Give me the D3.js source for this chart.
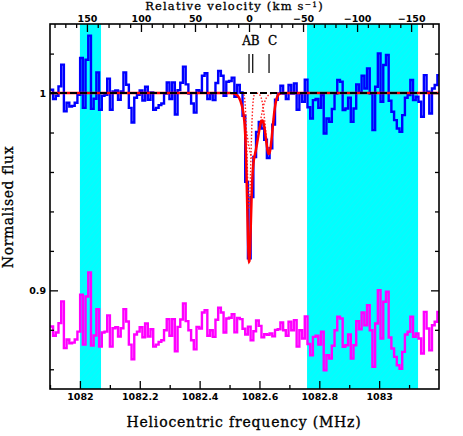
<!DOCTYPE html>
<html>
<head>
<meta charset="utf-8">
<script src="https://cdn.jsdelivr.net/npm/d3@7"></script>
<style>
  body { margin: 0; background: #fff; }
  .title { font-family: "DejaVu Serif", serif; fill: #000; stroke: #000; stroke-width: 0.3px; }
  .tick text { font-family: "DejaVu Sans", sans-serif; font-weight: bold; font-size: 9.5px; fill: #000; }
</style>
</head>
<body>
<script>
'use strict';

// spectrum, one value per channel (normalised flux)
const fluxValues = [
  1.0017, 0.9970, 0.9986, 1.0034, 1.0144, 0.9907, 0.9951, 0.9932, 0.9935, 0.9951,
  0.9991, 1.0178, 0.9925, 1.0169, 1.0291, 0.9920, 0.9971, 1.0105, 0.9915, 0.9986,
  0.9991, 1.0073, 0.9915, 1.0008, 1.0013, 0.9966, 1.0008, 1.0105, 1.0042, 0.9925,
  0.9851, 0.9976, 0.9991, 1.0013, 0.9962, 1.0032, 0.9966, 1.0003, 0.9915, 0.9925,
  0.9939, 0.9947, 0.9998, 1.0054, 0.9970, 1.0054, 0.9891, 1.0015, 1.0052, 1.0134,
  1.0044, 0.9998, 0.9947, 0.9901, 1.0015, 1.0007, 1.0088, 1.0100, 0.9970, 0.9998,
  0.9964, 1.0051, 1.0112, 1.0088, 0.9986, 1.0057, 1.0061, 1.0078, 0.9981, 1.0041,
  1.0003, 0.9885, 0.9550, 0.9163, 0.9473, 0.9676, 0.9803, 0.9854, 0.9820, 0.9763,
  0.9671, 0.9720, 0.9840, 0.9966, 0.9998, 1.0037, 0.9998, 0.9970, 1.0041, 0.9998,
  1.0049, 0.9915, 0.9998, 0.9956, 1.0068, 0.9928, 0.9871, 0.9964, 0.9970, 0.9925,
  0.9990, 0.9795, 0.9871, 0.9854, 0.9919, 0.9998, 1.0066, 1.0057, 0.9914, 0.9922,
  0.9976, 0.9854, 0.9922, 1.0044, 1.0003, 1.0088, 1.0023, 1.0125, 0.9998, 0.9812,
  1.0032, 1.0201, 0.9956, 1.0142, 1.0193, 0.9961, 0.9905, 0.9863, 0.9820, 0.9803,
  0.9888, 0.9976, 0.9990, 1.0066, 0.9964, 0.9981, 0.9956, 0.9880, 1.0091, 1.0007,
  0.9896, 1.0023, 1.0041, 1.0091
];
const chanStart = 1081.9012;   // MHz, left edge of first channel
const chanWidth = 0.009045;    // MHz

// fitted gaussian components
const compNames = ["A", "B", "C"];
const compFreq  = [1082.5651, 1082.5775, 1082.6320];
const compDepth = [0.058, 0.033, 0.030];
const compSigma = [0.0060, 0.0200, 0.0117];

const restFreq = 1082.5651;     // zero of the velocity axis
const residualOffset = 0.88;

// excluded (RFI) regions
const bandStarts = [1082.0, 1082.759];
const bandEnds   = [1082.0705, 1083.130];

const freqTicks = [1082, 1082.2, 1082.4, 1082.6, 1082.8, 1083];
const freqMinor = [1081.9, 1082.1, 1082.3, 1082.5, 1082.7, 1082.9, 1083.1];
const velTicks  = [150, 100, 50, 0, -50, -100, -150];
const fluxTicks = [0.9, 1];
const fluxMinor = [0.86, 0.88, 0.92, 0.94, 0.96, 0.98, 1.02];

(function() {

  const W = 463, H = 436;
  const m = { left: 50, right: 439, top: 24, bottom: 389 };
  const cLight = 299792.458;

  const x = d3.scaleLinear().domain([1081.9, 1083.2]).range([m.left, m.right]);
  const y = d3.scaleLinear().domain([0.85, 1.035]).range([m.bottom, m.top]);
  const vel = f => cLight * (restFreq - f) / restFreq;
  const xv = d3.scaleLinear().domain([vel(1081.9), vel(1083.2)]).range([m.left, m.right]);

  function comp(i, f) {
    return compDepth[i] * Math.exp(-Math.pow(f - compFreq[i], 2) / (2 * compSigma[i] * compSigma[i]));
  }
  function model(f) {
    let s = 0;
    for (let i = 0; i < compFreq.length; i++) s += comp(i, f);
    return 1 - s;
  }

  const svg = d3.select("body").append("svg")
    .attr("width", W).attr("height", H);

  const defs = svg.append("defs");
  defs.append("clipPath").attr("id", "plotclip")
    .append("rect")
    .attr("x", m.left).attr("y", m.top)
    .attr("width", m.right - m.left).attr("height", m.bottom - m.top);

  const pat = defs.append("pattern").attr("id", "hatch")
    .attr("width", 4).attr("height", 4)
    .attr("patternUnits", "userSpaceOnUse")
    .attr("patternTransform", "rotate(40)");
  pat.append("rect").attr("width", 4).attr("height", 4).attr("fill", "#00ffff");
  pat.append("line").attr("x1", 0).attr("y1", 0).attr("x2", 0).attr("y2", 4)
    .attr("stroke", "#22eef8").attr("stroke-width", 1);

  // cyan bands
  svg.append("g").selectAll("rect")
    .data(bandStarts)
    .enter().append("rect")
    .attr("x", d => x(d))
    .attr("width", (d, i) => x(bandEnds[i]) - x(d))
    .attr("y", m.top)
    .attr("height", m.bottom - m.top)
    .attr("fill", "url(#hatch)");

  const plot = svg.append("g").attr("clip-path", "url(#plotclip)");

  // channel edges for step lines
  const chans = fluxValues.map((v, i) => ({ f: chanStart + i * chanWidth, v: v }));
  const stepData = chans.concat([{ f: chanStart + fluxValues.length * chanWidth, v: fluxValues[fluxValues.length - 1] }]);

  const stepLine = d3.line()
    .x(d => x(d.f)).y(d => y(d.v))
    .curve(d3.curveStepAfter);

  plot.append("path")
    .datum(stepData)
    .attr("d", stepLine)
    .attr("fill", "none")
    .attr("stroke", "#0000ff")
    .attr("stroke-width", 2.4);

  // residual = data - model + offset
  const resid = stepData.map(d => {
    const mid = d.f + chanWidth / 2;
    return { f: d.f, v: d.v - model(mid) + residualOffset };
  });
  resid[resid.length - 1].v = resid[resid.length - 2].v;

  plot.append("path")
    .datum(resid)
    .attr("d", stepLine)
    .attr("fill", "none")
    .attr("stroke", "#ff00ff")
    .attr("stroke-width", 2.4);

  // components (dotted)
  const fine = d3.range(1081.9, 1083.2001, 0.0005);
  const smooth = d3.line().x(d => x(d[0])).y(d => y(d[1]));

  compFreq.forEach((c, i) => {
    const pts = fine.filter(f => Math.abs(f - c) < 4.5 * compSigma[i])
      .map(f => [f, 1 - comp(i, f)]);
    plot.append("path")
      .attr("d", smooth(pts))
      .attr("fill", "none")
      .attr("stroke", "#ff2020")
      .attr("stroke-width", 1.4)
      .attr("stroke-dasharray", "1.5,1.8");
  });

  // total model
  plot.append("path")
    .attr("d", smooth(fine.map(f => [f, model(f)])))
    .attr("fill", "none")
    .attr("stroke", "#ff0000")
    .attr("stroke-width", 2.5);

  // continuum
  plot.append("line")
    .attr("x1", m.left).attr("x2", m.right)
    .attr("y1", y(1)).attr("y2", y(1))
    .attr("stroke", "#000")
    .attr("stroke-width", 2)
    .attr("stroke-dasharray", "7,3");

  // component markers
  compFreq.forEach(c => {
    svg.append("line")
      .attr("x1", x(c)).attr("x2", x(c))
      .attr("y1", 54).attr("y2", 73)
      .attr("stroke", "#000").attr("stroke-width", 1.2);
  });
  svg.append("text").attr("class", "title")
    .attr("x", (x(compFreq[0]) + x(compFreq[1])) / 2)
    .attr("y", 45).attr("text-anchor", "middle")
    .attr("font-size", "12px")
    .text(compNames[0] + compNames[1]);
  svg.append("text").attr("class", "title")
    .attr("x", x(compFreq[2]) + 3.5)
    .attr("y", 45).attr("text-anchor", "middle")
    .attr("font-size", "12px")
    .text(compNames[2]);

  // axes
  function styleAxis(g) {
    g.select(".domain").remove();
    g.selectAll(".tick line").attr("stroke", "#000").attr("stroke-width", 1.3);
  }

  svg.append("g").attr("transform", `translate(0,${m.bottom})`)
    .call(d3.axisBottom(x).tickValues(freqTicks).tickSize(-8).tickPadding(4)
      .tickFormat(d3.format("")))
    .call(styleAxis);
  svg.append("g").attr("transform", `translate(0,${m.bottom})`)
    .call(d3.axisBottom(x).tickValues(freqMinor).tickSize(-4).tickFormat(""))
    .call(styleAxis);

  svg.append("g").attr("transform", `translate(0,${m.top})`)
    .call(d3.axisTop(xv).tickValues(velTicks).tickSize(-8).tickPadding(2))
    .call(styleAxis);
  svg.append("g").attr("transform", `translate(0,${m.top})`)
    .call(d3.axisTop(xv).tickValues(d3.range(-170, 190, 10).filter(v => v % 50 !== 0))
      .tickSize(-4).tickFormat(""))
    .call(styleAxis);

  svg.append("g").attr("transform", `translate(${m.left},0)`)
    .call(d3.axisLeft(y).tickValues(fluxTicks).tickSize(-8).tickPadding(4)
      .tickFormat(d3.format("")))
    .call(styleAxis);
  svg.append("g").attr("transform", `translate(${m.left},0)`)
    .call(d3.axisLeft(y).tickValues(fluxMinor).tickSize(-4).tickFormat(""))
    .call(styleAxis);
  svg.append("g").attr("transform", `translate(${m.right},0)`)
    .call(d3.axisRight(y).tickValues(fluxTicks).tickSize(-8).tickFormat(""))
    .call(styleAxis);
  svg.append("g").attr("transform", `translate(${m.right},0)`)
    .call(d3.axisRight(y).tickValues(fluxMinor).tickSize(-4).tickFormat(""))
    .call(styleAxis);

  svg.append("rect")
    .attr("x", m.left).attr("y", m.top)
    .attr("width", m.right - m.left).attr("height", m.bottom - m.top)
    .attr("fill", "none").attr("stroke", "#000").attr("stroke-width", 1.6);

  // titles
  const topTitle = svg.append("text").attr("class", "title")
    .attr("x", (m.left + m.right) / 2 - 10).attr("y", 10)
    .attr("text-anchor", "middle")
    .attr("font-size", "11.5px")
    .attr("letter-spacing", "1.2px");
  topTitle.append("tspan").text("Relative velocity (km s");
  topTitle.append("tspan").attr("dy", -3.5).attr("font-size", "7.5px").text("\u22121");
  topTitle.append("tspan").attr("dy", 3.5).text(")");

  svg.append("text").attr("class", "title")
    .attr("x", 244).attr("y", 427)
    .attr("text-anchor", "middle")
    .attr("font-size", "14px")
    .attr("letter-spacing", "0.8px")
    .text("Heliocentric frequency (MHz)");

  svg.append("text").attr("class", "title")
    .attr("transform", "translate(13,207) rotate(-90)")
    .attr("text-anchor", "middle")
    .attr("font-size", "14px")
    .attr("letter-spacing", "0.6px")
    .text("Normalised flux");
})();
</script>
</body>
</html>
